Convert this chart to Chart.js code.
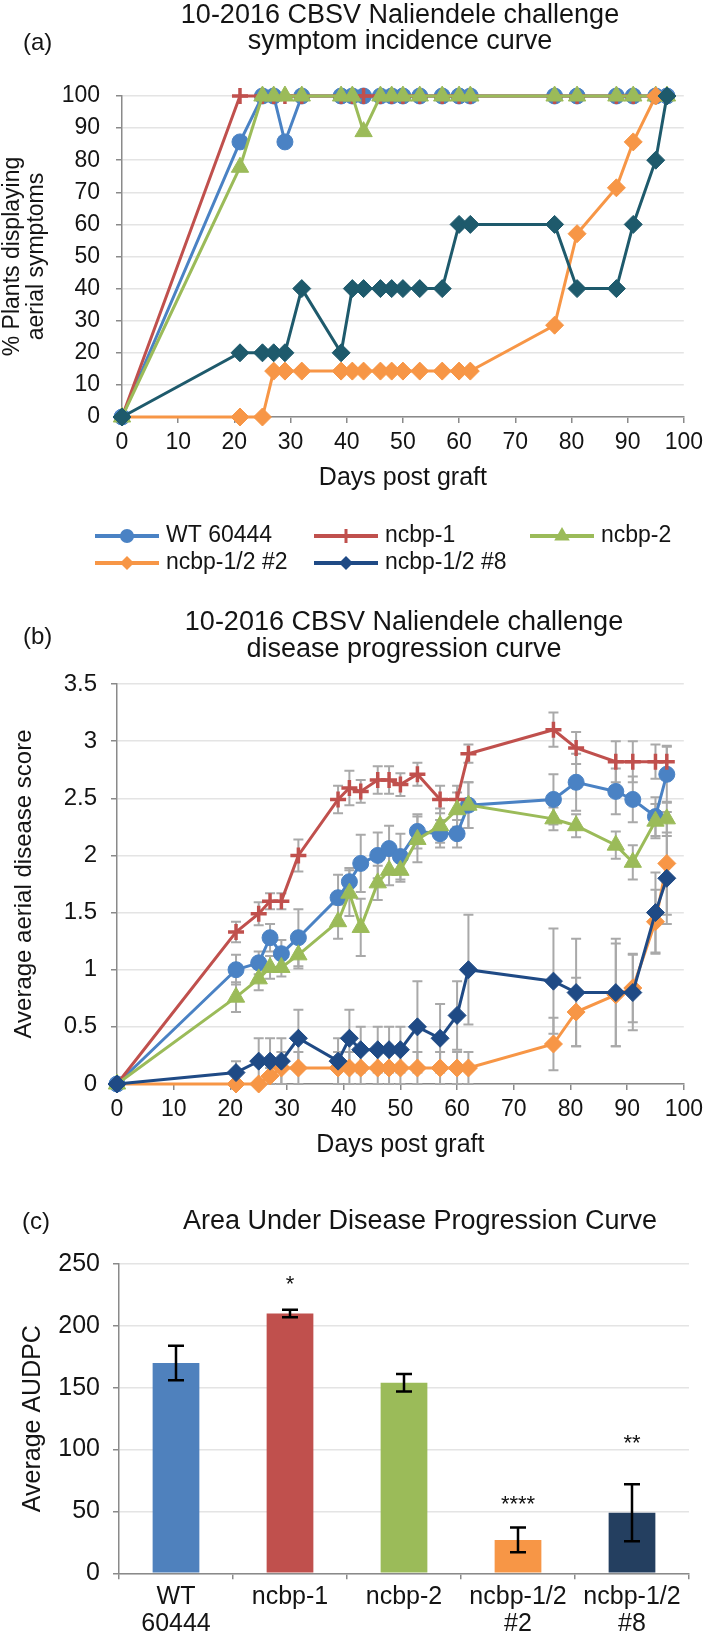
<!DOCTYPE html>
<html><head><meta charset="utf-8">
<script src="https://cdn.jsdelivr.net/npm/chart.js@4.4.0/dist/chart.umd.min.js"></script>
<style>
html,body{margin:0;padding:0;background:#fff;}
body{width:709px;height:1634px;position:relative;overflow:hidden;}
canvas{position:absolute;left:0;}
</style></head><body>
<canvas id="ca" width="709" height="590" style="top:0;width:709px;height:590px"></canvas>
<canvas id="cb" width="709" height="575" style="top:600px;width:709px;height:575px"></canvas>
<canvas id="cc" width="709" height="454" style="top:1180px;width:709px;height:454px"></canvas>
<script>
// ---------- DATA ----------
const days = [0,21,25,27,29,32,39,41,43,46,48,50,53,57,60,62,77,81,88,91,95,97];
const seriesNames = ['WT 60444','ncbp-1','ncbp-2','ncbp-1/2 #2','ncbp-1/2 #8'];
const xTicksDays = [0,10,20,30,40,50,60,70,80,90,100];

// (a) % plants displaying aerial symptoms
const incWT = [0,85.7,100,100,85.7,100,100,100,100,100,100,100,100,100,100,100,100,100,100,100,100,100];
const incN1 = [0,100,100,100,100,100,100,100,100,100,100,100,100,100,100,100,100,100,100,100,100,100];
const incN2 = [0,77.8,100,100,100,100,100,100,88.9,100,100,100,100,100,100,100,100,100,100,100,100,100];
const inc2  = [0,0,0,14.3,14.3,14.3,14.3,14.3,14.3,14.3,14.3,14.3,14.3,14.3,14.3,14.3,28.6,57.1,71.4,85.7,100,100];
const inc8  = [0,20,20,20,20,40,20,40,40,40,40,40,40,40,60,60,60,40,40,60,80,100];

// (b) average aerial disease score and error
const scWT = [0,1.0,1.06,1.28,1.14,1.28,1.63,1.77,1.93,2.0,2.06,1.99,2.21,2.19,2.19,2.44,2.49,2.64,2.56,2.49,2.34,2.71];
const scN1 = [0,1.33,1.49,1.6,1.6,2.0,2.49,2.59,2.56,2.66,2.66,2.62,2.71,2.49,2.49,2.89,3.1,2.94,2.82,2.82,2.82,2.82];
const scN2 = [0,0.76,0.92,1.02,1.02,1.13,1.42,1.67,1.37,1.76,1.87,1.87,2.14,2.26,2.4,2.44,2.32,2.26,2.09,1.94,2.3,2.32];
const sc2  = [0,0,0,0.07,0.14,0.14,0.14,0.14,0.14,0.14,0.14,0.14,0.14,0.14,0.14,0.14,0.35,0.63,0.78,0.84,1.42,1.93];
const sc8  = [0,0.1,0.2,0.2,0.2,0.4,0.2,0.4,0.3,0.3,0.3,0.3,0.5,0.4,0.6,1.0,0.9,0.8,0.8,0.8,1.5,1.8];
const errWT = [0,0.13,0.1,0.12,0.12,0.25,0.2,0.12,0.25,0.2,0.2,0.2,0.15,0.12,0.12,0.2,0.22,0.25,0.2,0.2,0.17,0.25];
const errN1 = [0,0.09,0.1,0.07,0.07,0.14,0.12,0.15,0.1,0.12,0.12,0.1,0.1,0.12,0.12,0.08,0.15,0.14,0.18,0.18,0.15,0.13];
const errN2 = [0,0.13,0.1,0.1,0.08,0.12,0.15,0.2,0.25,0.15,0.13,0.1,0.2,0.15,0.15,0.2,0.1,0.1,0.12,0.15,0.15,0.15];
const err2  = [0,0,0,0.07,0.14,0.14,0.14,0.14,0.14,0.14,0.14,0.14,0.14,0.14,0.14,0.14,0.23,0.3,0.45,0.3,0.28,0.45];
const err8  = [0,0.1,0.2,0.2,0.2,0.25,0.2,0.25,0.2,0.2,0.2,0.2,0.4,0.3,0.3,0.48,0.46,0.47,0.47,0.33,0.35,0.4];

// (c) AUDPC
const groups = [['WT','60444'],'ncbp-1','ncbp-2',['ncbp-1/2','#2'],['ncbp-1/2','#8']];
const audpc = [170,210,154,27,49];
const audpcErr = [14,3,7,10,23];
const sigText = ['','*','','****','**'];
const sigLevel = [null,238,null,60,109];

// ---------- STYLE ----------
const FONT = "'Liberation Sans', Arial, Helvetica, sans-serif";
const AXIS = '#8a8a8a', GRID = '#e4e4e4', TXT = '#141414';
Chart.defaults.font.family = FONT;
Chart.defaults.color = TXT;
const colA = ['#4A82C4','#C0504D','#9BBB59','#F79646','#1E5A6C'];
const colB = ['#4A82C4','#C0504D','#9BBB59','#F79646','#1F4A85'];
const styles = ['circle','cross','triangle','rectRot','rectRot'];
const radii = [8,8,10,9,9];
const barColors = ['#4F81BD','#C0504D','#9BBB59','#F79646','#243F60'];

function lineDS(i, values, colors) {
  const c = colors[i];
  return {
    label: seriesNames[i],
    data: days.map((d, k) => ({x: d, y: values[k]})),
    borderColor: c, backgroundColor: c,
    pointBackgroundColor: c, pointBorderColor: c,
    pointStyle: styles[i], pointRadius: radii[i],
    pointBorderWidth: styles[i] === 'cross' ? 3.5 : 1,
    borderWidth: 3, tension: 0, clip: false,
    order: 5 - i
  };
}

function textPlugin(id, items) {
  return { id, afterDraw(chart) {
    const ctx = chart.ctx; ctx.save();
    ctx.fillStyle = TXT; ctx.textBaseline = 'middle';
    items.forEach(t => { ctx.font = t.size + 'px ' + FONT; ctx.textAlign = t.align || 'center'; ctx.fillText(t.text, t.x, t.y); });
    ctx.restore();
  }};
}

function marker(ctx, style, x, y, r, color) {
  ctx.save(); ctx.fillStyle = color; ctx.strokeStyle = color; ctx.beginPath();
  if (style === 'circle') { ctx.arc(x, y, r, 0, Math.PI * 2); ctx.fill(); }
  else if (style === 'cross') { ctx.lineWidth = 3; ctx.moveTo(x - r, y); ctx.lineTo(x + r, y); ctx.moveTo(x, y - r); ctx.lineTo(x, y + r); ctx.stroke(); }
  else if (style === 'triangle') { ctx.moveTo(x, y - r); ctx.lineTo(x + r * 0.866, y + r * 0.5); ctx.lineTo(x - r * 0.866, y + r * 0.5); ctx.closePath(); ctx.fill(); }
  else { ctx.moveTo(x, y - r); ctx.lineTo(x + r, y); ctx.lineTo(x, y + r); ctx.lineTo(x - r, y); ctx.closePath(); ctx.fill(); }
  ctx.restore();
}

const legendPlugin = { id: 'customLegend', afterDraw(chart) {
  const ctx = chart.ctx;
  const slots = [[95,536],[314,536],[530,536],[95,563],[314,563]];
  const legendCols = [colA[0], colA[1], colA[2], colA[3], colB[4]];
  slots.forEach((s, i) => {
    const [x0, y] = s;
    ctx.save(); ctx.strokeStyle = legendCols[i]; ctx.lineWidth = 4;
    ctx.beginPath(); ctx.moveTo(x0, y); ctx.lineTo(x0 + 64, y); ctx.stroke(); ctx.restore();
    marker(ctx, styles[i], x0 + 32, y, [7,7,9,7,7][i], legendCols[i]);
    ctx.save(); ctx.fillStyle = TXT; ctx.font = '23px ' + FONT; ctx.textBaseline = 'middle'; ctx.textAlign = 'left';
    ctx.fillText(seriesNames[i], x0 + 71, y); ctx.restore();
  });
}};

function axisX(size, title, h) {
  return {
    type: 'linear', min: 0, max: 100,
    afterBuildTicks: s => { s.ticks = xTicksDays.map(v => ({value: v})); },
    ticks: {font: {size}, color: TXT, padding: 6},
    grid: {drawOnChartArea: false, tickLength: 6, tickColor: AXIS, lineWidth: 1.5},
    border: {color: AXIS, width: 1.5},
    title: {display: true, text: title, font: {size: 25}, color: TXT, padding: {top: 0, bottom: 4}},
    afterFit: s => { s.height = h; }
  };
}

// ---------- (a) ----------
new Chart(document.getElementById('ca'), {
  type: 'line',
  data: { datasets: [lineDS(0, incWT, colA), lineDS(1, incN1, colA), lineDS(2, incN2, colA), lineDS(3, inc2, colA), lineDS(4, inc8, colA)] },
  options: {
    responsive: false, animation: false, events: [],
    layout: {padding: {top: 96, left: 0, right: 21, bottom: 93}},
    plugins: {legend: {display: false}, tooltip: {enabled: false}},
    scales: {
      x: axisX(23, 'Days post graft', 80),
      y: {min: 0, max: 100, ticks: {stepSize: 10, font: {size: 23}, color: TXT, padding: 16},
        grid: {color: GRID, lineWidth: 1.5, tickLength: 6, tickColor: AXIS},
        border: {color: AXIS, width: 1.5},
        title: {display: true, text: ['% Plants displaying', 'aerial symptoms'], font: {size: 23, lineHeight: '24px'}, color: TXT, padding: {top: 1, bottom: 0}},
        afterFit: s => { s.width = 122; }}
    }
  },
  plugins: [legendPlugin, textPlugin('ta', [
    {text: '(a)', x: 23, y: 43, size: 24, align: 'left'},
    {text: '10-2016 CBSV Naliendele challenge', x: 400, y: 16, size: 27},
    {text: 'symptom incidence curve', x: 400, y: 42, size: 27}
  ])]
});

// ---------- (b) ----------
const errBars = { id: 'errBars', beforeDatasetsDraw(chart) {
  const {ctx, scales: {x, y}} = chart;
  const sets = [[scWT, errWT], [scN1, errN1], [scN2, errN2], [sc2, err2], [sc8, err8]];
  ctx.save(); ctx.strokeStyle = '#a9a9a9'; ctx.lineWidth = 2;
  sets.forEach(([v, e]) => {
    days.forEach((d, k) => {
      if (!e[k]) return;
      const px = x.getPixelForValue(d), t = y.getPixelForValue(v[k] + e[k]), b = y.getPixelForValue(v[k] - e[k]);
      ctx.beginPath(); ctx.moveTo(px, t); ctx.lineTo(px, b);
      ctx.moveTo(px - 5, t); ctx.lineTo(px + 5, t); ctx.moveTo(px - 5, b); ctx.lineTo(px + 5, b); ctx.stroke();
    });
  });
  ctx.restore();
}};

new Chart(document.getElementById('cb'), {
  type: 'line',
  data: { datasets: [lineDS(0, scWT, colB), lineDS(1, scN1, colB), lineDS(2, scN2, colB), lineDS(3, sc2, colB), lineDS(4, sc8, colB)] },
  options: {
    responsive: false, animation: false, events: [],
    layout: {padding: {top: 84, left: 0, right: 19, bottom: 11}},
    plugins: {legend: {display: false}, tooltip: {enabled: false}},
    scales: {
      x: axisX(23, 'Days post graft', 80),
      y: {min: 0, max: 3.5, ticks: {stepSize: 0.5, font: {size: 24}, color: TXT, padding: 14, callback: v => String(v)},
        grid: {color: GRID, lineWidth: 1.5, tickLength: 6, tickColor: AXIS},
        border: {color: AXIS, width: 1.5},
        title: {display: true, text: 'Average aerial disease score', font: {size: 24, lineHeight: '28px'}, color: TXT, padding: {top: 10, bottom: 0}},
        afterFit: s => { s.width = 117; }}
    }
  },
  plugins: [errBars, textPlugin('tb', [
    {text: '(b)', x: 23, y: 37, size: 24, align: 'left'},
    {text: '10-2016 CBSV Naliendele challenge', x: 404, y: 23, size: 27},
    {text: 'disease progression curve', x: 404, y: 50, size: 27}
  ])]
});

// ---------- (c) ----------
const barErr = { id: 'barErr', afterDatasetsDraw(chart) {
  const {ctx, scales: {x, y}} = chart;
  ctx.save(); ctx.strokeStyle = '#000'; ctx.lineWidth = 2.5;
  audpc.forEach((v, k) => {
    const px = x.getPixelForValue(k), t = y.getPixelForValue(v + audpcErr[k]), b = y.getPixelForValue(v - audpcErr[k]);
    ctx.beginPath(); ctx.moveTo(px, t); ctx.lineTo(px, b);
    ctx.moveTo(px - 8, t); ctx.lineTo(px + 8, t); ctx.moveTo(px - 8, b); ctx.lineTo(px + 8, b); ctx.stroke();
  });
  ctx.fillStyle = '#111'; ctx.font = '22px ' + FONT; ctx.textAlign = 'center'; ctx.textBaseline = 'alphabetic';
  sigText.forEach((s, k) => {
    if (!s) return;
    ctx.fillText(s, x.getPixelForValue(k), y.getPixelForValue(sigLevel[k]) + 12);
  });
  ctx.restore();
}};

new Chart(document.getElementById('cc'), {
  type: 'bar',
  data: { labels: groups, datasets: [{ data: audpc, backgroundColor: barColors, barPercentage: 0.41, categoryPercentage: 1 }] },
  options: {
    responsive: false, animation: false, events: [],
    layout: {padding: {top: 84, left: 0, right: 20, bottom: 0}},
    plugins: {legend: {display: false}, tooltip: {enabled: false}},
    scales: {
      x: {ticks: {font: {size: 25, lineHeight: 1.1}, color: TXT, padding: 4},
        grid: {drawOnChartArea: false, tickLength: 6, tickColor: AXIS, lineWidth: 1.5, offset: true},
        border: {color: AXIS, width: 1.5},
        afterFit: s => { s.height = 60.7; }},
      y: {min: 0, max: 250, ticks: {stepSize: 50, font: {size: 25}, color: TXT, padding: 13},
        grid: {color: GRID, lineWidth: 1.5, tickLength: 6, tickColor: AXIS},
        border: {color: AXIS, width: 1.5},
        title: {display: true, text: 'Average AUDPC', font: {size: 25, lineHeight: '30px'}, color: TXT, padding: {top: 18, bottom: 0}},
        afterFit: s => { s.width = 119; }}
    }
  },
  plugins: [barErr, textPlugin('tc', [
    {text: '(c)', x: 22, y: 42, size: 24, align: 'left'},
    {text: 'Area Under Disease Progression Curve', x: 420, y: 42, size: 27}
  ])]
});
</script>
</body></html>
